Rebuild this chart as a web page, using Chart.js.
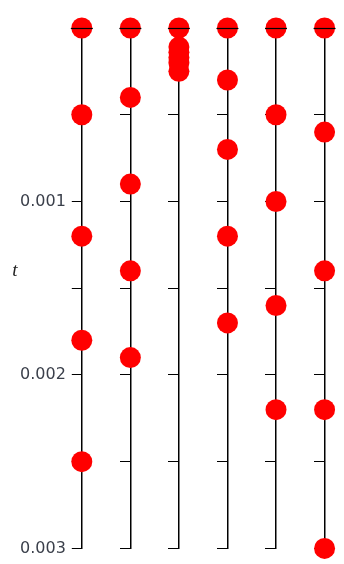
<!DOCTYPE html>
<html>
<head>
<meta charset="utf-8">
<script src="https://cdn.jsdelivr.net/npm/chart.js@4/dist/chart.umd.min.js"></script>
<style>
  html, body { margin: 0; padding: 0; background: #ffffff; }
  #wrap { width: 344px; height: 564px; }
</style>
</head>
<body>
<div id="wrap"><canvas id="c"></canvas></div>
<script>
// Event times t for each of the six columns (top = 0)
const column1 = [0, 0.0005, 0.0012, 0.0018, 0.0025];
const column2 = [0, 0.0004, 0.0009, 0.0014, 0.0019];
const column3 = [0, 0.00011, 0.00014, 0.00017, 0.0002, 0.00025];
const column4 = [0, 0.0003, 0.0007, 0.0012, 0.0017];
const column5 = [0, 0.0005, 0.001, 0.0016, 0.0022];
const column6 = [0, 0.0006, 0.0014, 0.0022, 0.003];
const columns = [column1, column2, column3, column4, column5, column6];

const tMin = 0;
const tMax = 0.003;
const tStep = 0.0005;
const tickLabels = ['0.001', '0.002', '0.003'];
const axisTitle = 't';

const labelFont = { family: 'DejaVu Sans', size: 16 };
const labelColor = '#3a3f4a';

// Only whole thousandths carry a label; half steps keep their tick mark
function tickText(value) {
  const k = Math.round(value / tStep);
  if (k % 2 !== 0) return '';
  const s = (k * tStep).toFixed(3);
  return tickLabels.includes(s) ? s : '';
}

const datasets = columns.map((col, i) => ({
  label: 'column ' + (i + 1),
  data: col.map(t => ({ x: i + 1, y: t })),
  backgroundColor: '#ff0000',
  borderColor: '#ff0000',
  borderWidth: 0,
  pointRadius: 10.5,
  pointHoverRadius: 10.5,
  clip: false,
  yAxisID: 'y'
}));

function columnAxis(extra) {
  return Object.assign({
    type: 'linear',
    min: tMin,
    max: tMax,
    reverse: true,
    z: 1,
    border: { display: true, color: '#000000', width: 1.5 },
    grid: { drawOnChartArea: false, drawTicks: true, tickLength: 10, tickColor: '#000000', lineWidth: 1 }
  }, extra);
}

const scales = {
  x: { type: 'linear', min: 1, max: 6.05, display: false },
  y: columnAxis({
    position: 'left',
    // reserve room for tick marks, padding and the widest label
    afterFit(scale) {
      const ctx = scale.ctx;
      ctx.save();
      ctx.font = labelFont.size + 'px "' + labelFont.family + '"';
      const widest = Math.max(...tickLabels.map(s => ctx.measureText(s).width));
      ctx.restore();
      scale.width = scale.options.grid.tickLength + scale.options.ticks.padding + widest;
    },
    ticks: {
      stepSize: tStep,
      padding: 6,
      color: labelColor,
      font: labelFont,
      callback: v => tickText(v)
    }
  })
};
for (let i = 2; i <= 6; i++) {
  scales['y' + i] = columnAxis({
    position: { x: i },
    ticks: { stepSize: tStep, display: false, callback: () => '' }
  });
}

// Crossbar at t = 0 over each column axis, and the italic axis title
const decorations = {
  id: 'decorations',
  afterDraw(chart) {
    const { ctx, scales } = chart;
    const y0 = Math.round(scales.y.getPixelForValue(tMin)) + 0.5;
    ctx.save();
    ctx.strokeStyle = '#000000';
    ctx.lineWidth = 1.2;
    columns.forEach((col, i) => {
      const x = scales.x.getPixelForValue(i + 1);
      ctx.beginPath();
      ctx.moveTo(x - 11, y0);
      ctx.lineTo(x + 11, y0);
      ctx.stroke();
    });
    ctx.fillStyle = '#222222';
    ctx.font = 'italic 19px "Liberation Serif"';
    ctx.textAlign = 'center';
    ctx.textBaseline = 'middle';
    ctx.fillText(axisTitle, 15, scales.y.getPixelForValue(0.0014));
    ctx.restore();
  }
};

new Chart(document.getElementById('c'), {
  type: 'scatter',
  data: { datasets },
  options: {
    responsive: true,
    maintainAspectRatio: false,
    animation: false,
    events: [],
    layout: { padding: { left: 20, right: 17, top: 28, bottom: 12 } },
    plugins: { legend: { display: false }, tooltip: { enabled: false }, title: { display: false } },
    scales
  },
  plugins: [decorations]
});
</script>
</body>
</html>
